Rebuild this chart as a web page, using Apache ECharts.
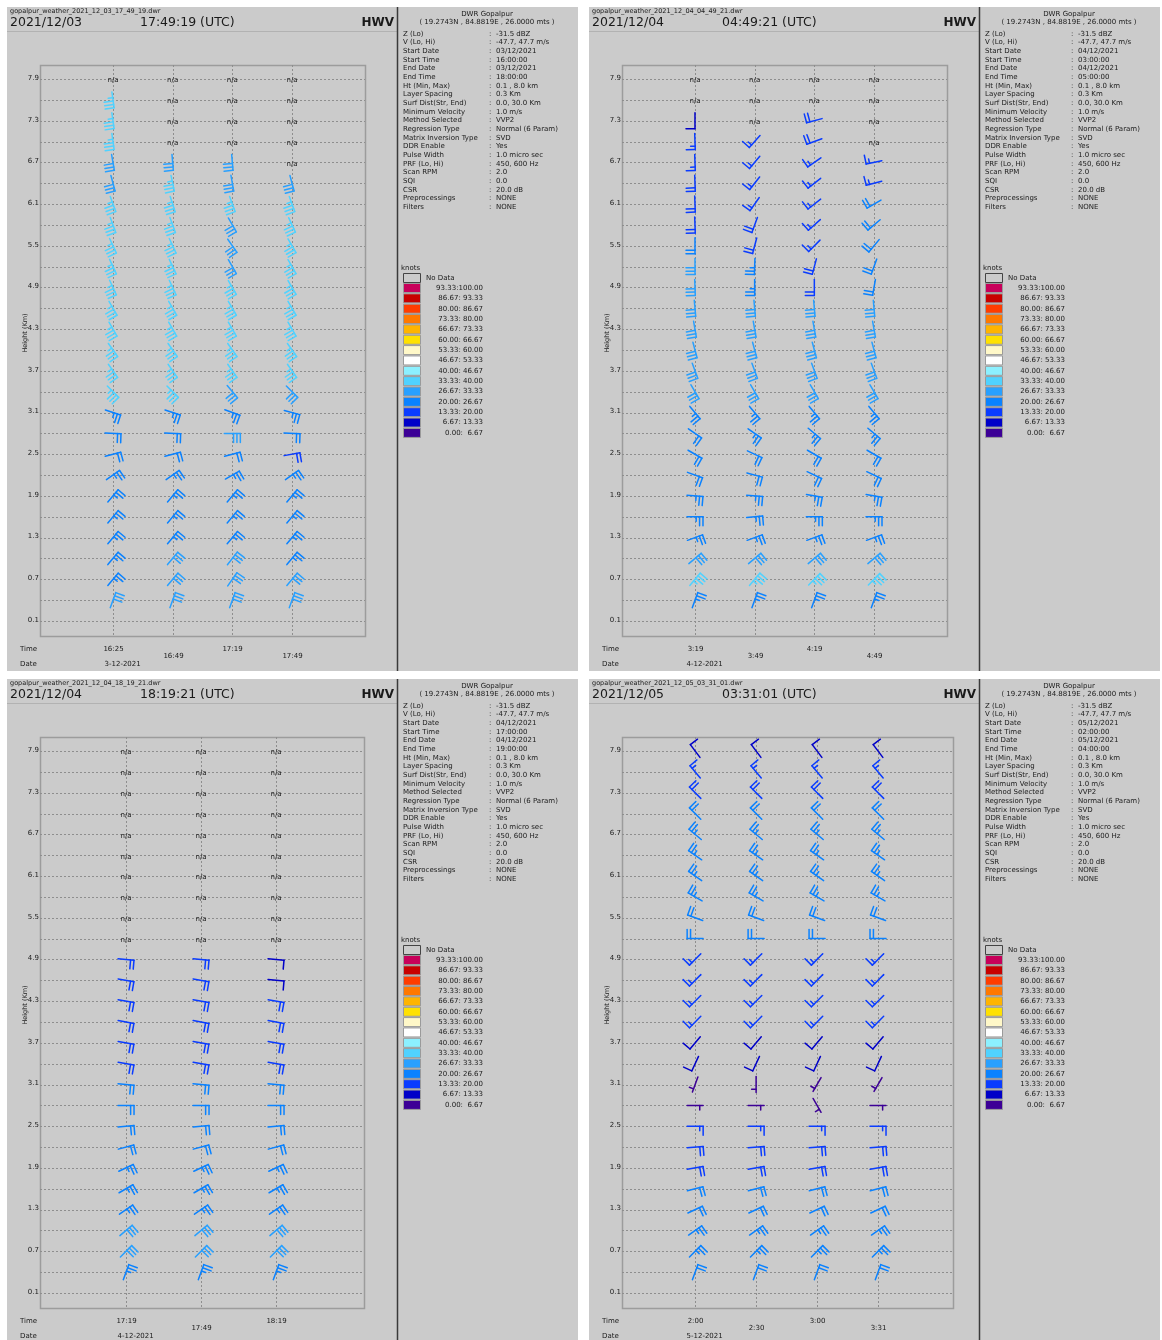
<!DOCTYPE html>
<html><head><meta charset="utf-8">
<script src="https://cdn.jsdelivr.net/npm/echarts@6/dist/echarts.min.js"></script>
<style>html,body{margin:0;padding:0;background:#fff}#c{width:1162px;height:1340px}</style>
</head><body><div id="c"></div><script>
// ---------- DATA ----------
const levels = [0.4,0.7,1.0,1.3,1.6,1.9,2.2,2.5,2.8,3.1,3.4,3.7,4.0,4.3,4.6,4.9,5.2,5.5,5.8,6.1,6.4,6.7,7.0,7.3,7.6,7.9];
const gridLevels = [0.1,0.4,0.7,1.0,1.3,1.6,1.9,2.2,2.5,2.8,3.1,3.4,3.7,4.0,4.3,4.6,4.9,5.2,5.5,5.8,6.1,6.4,6.7,7.0,7.3,7.6,7.9];
const heightTicks = [0.1,0.7,1.3,1.9,2.5,3.1,3.7,4.3,4.9,5.5,6.1,6.7,7.3,7.9];

const legendLabels = ['93.33:100.00','86.67: 93.33','80.00: 86.67','73.33: 80.00','66.67: 73.33','60.00: 66.67','53.33: 60.00','46.67: 53.33','40.00: 46.67','33.33: 40.00','26.67: 33.33','20.00: 26.67','13.33: 20.00','6.67: 13.33','0.00:  6.67'];
const legendColors = ['#c8005a','#c80000','#ff3c00','#ff7800','#ffb400','#ffe100','#fff8c8','#ffffff','#8cf0ff','#50d2ff','#28a0ff','#0a82ff','#0a3cff','#0000c8','#3c0096'];
const legendBreaks = [93.33,86.67,80.00,73.33,66.67,60.00,53.33,46.67,40.00,33.33,26.67,20.00,13.33,6.67,0.00];

const infoKeys = ['Z (Lo)','V (Lo, Hi)','Start Date','Start Time','End Date','End Time','Ht (Min, Max)','Layer Spacing','Surf Dist(Str, End)','Minimum Velocity','Method Selected','Regression Type','Matrix Inversion Type','DDR Enable','Pulse Width','PRF (Lo, Hi)','Scan RPM','SQI','CSR','Preprocessings','Filters'];
const infoCommon = ['-31.5 dBZ','-47.7, 47.7 m/s',null,null,null,null,'0.1 , 8.0 km','0.3 Km','0.0, 30.0 Km','1.0 m/s','VVP2','Normal (6 Param)','SVD','Yes','1.0 micro sec','450, 600 Hz','2.0','0.0','20.0 dB','NONE','NONE'];

// Panel 1
const p1File = 'gopalpur_weather_2021_12_03_17_49_19.dwr';
const p1Title = ['2021/12/03','17:49:19 (UTC)'];
const p1Span = ['03/12/2021','16:00:00','03/12/2021','18:00:00'];
const p1Times = ['16:25','16:49','17:19','17:49'];
const p1Date = '3-12-2021';
const p1Dir = [
 [20,40,40,40,40,40,55,75,92,108,135,145,145,150,150,155,155,155,160,160,165,170,172,172,172,null],
 [20,40,40,40,40,40,55,75,92,108,135,145,145,150,150,155,155,155,160,162,168,175,null,null,null,null],
 [20,35,38,40,40,40,60,75,90,110,140,145,145,150,150,150,150,145,150,160,170,175,null,null,null,null],
 [20,40,40,40,40,40,55,80,92,105,135,145,145,150,150,150,150,150,155,160,165,null,null,null,null,null]
];
const p1Spd = [
 [28,25,25,25,25,25,25,22,22,25,35,35,35,35,35,35,35,35,35,35,32,32,35,35,35,null],
 [28,30,30,25,25,25,25,22,22,25,35,35,35,35,35,35,35,35,35,35,35,32,null,null,null,null],
 [28,30,30,25,25,25,25,22,28,25,30,35,35,35,35,35,32,32,32,35,32,32,null,null,null,null],
 [28,30,25,25,25,25,25,18,22,25,30,35,35,35,35,35,35,35,35,35,32,null,null,null,null,null]
];

// Panel 2
const p2File = 'gopalpur_weather_2021_12_04_04_49_21.dwr';
const p2Title = ['2021/12/04','04:49:21 (UTC)'];
const p2Span = ['04/12/2021','03:00:00','04/12/2021','05:00:00'];
const p2Times = ['3:19','3:49','4:19','4:49'];
const p2Date = '4-12-2021';
const p2Dir = [
 [20,40,50,70,90,95,110,120,125,140,150,160,165,170,175,178,180,180,178,178,178,178,178,180,null,null],
 [20,40,50,70,85,95,105,115,125,140,150,160,165,170,175,180,182,195,200,215,218,220,222,null,null,null],
 [20,45,50,70,90,100,115,120,130,140,150,160,165,170,175,180,195,225,228,232,232,235,250,255,null,null],
 [20,45,50,70,90,100,115,120,130,140,150,160,165,170,175,190,200,220,230,240,255,258,null,null,null,null]
];
const p2Spd = [
 [25,35,30,25,25,25,22,22,22,25,28,30,30,30,30,28,28,22,18,18,18,17,15,10,null,null],
 [25,35,30,25,25,25,22,22,25,25,28,28,28,28,28,25,25,18,18,17,17,17,15,null,null,null],
 [25,35,30,25,25,25,22,22,25,25,28,28,28,28,28,18,18,17,17,17,17,17,18,18,null,null],
 [25,35,30,25,25,25,22,22,25,25,28,28,28,28,28,22,22,22,22,22,17,17,null,null,null,null]
];

// Panel 3
const p3File = 'gopalpur_weather_2021_12_04_18_19_21.dwr';
const p3Title = ['2021/12/04','18:19:21 (UTC)'];
const p3Span = ['04/12/2021','17:00:00','04/12/2021','19:00:00'];
const p3Times = ['17:19','17:49','18:19'];
const p3Date = '4-12-2021';
const p3Dir = [
 [20,45,50,55,60,65,75,85,90,95,100,100,100,100,100,95,null,null,null,null,null,null,null,null,null,null],
 [20,45,50,55,60,65,75,85,90,95,100,100,100,100,100,95,null,null,null,null,null,null,null,null,null,null],
 [20,45,50,55,60,65,75,85,90,95,100,100,100,100,95,95,null,null,null,null,null,null,null,null,null,null]
];
const p3Spd = [
 [25,28,28,25,25,25,22,22,22,20,18,18,18,18,18,18,null,null,null,null,null,null,null,null,null,null],
 [25,28,28,25,25,25,22,22,22,20,18,18,18,18,18,18,null,null,null,null,null,null,null,null,null,null],
 [25,28,28,25,25,25,22,22,22,20,18,18,18,18,12,12,null,null,null,null,null,null,null,null,null,null]
];

// Panel 4
const p4File = 'gopalpur_weather_2021_12_05_03_31_01.dwr';
const p4Title = ['2021/12/05','03:31:01 (UTC)'];
const p4Span = ['05/12/2021','02:00:00','05/12/2021','04:00:00'];
const p4Times = ['2:00','2:30','3:00','3:31'];
const p4Date = '5-12-2021';
const p4Dir = [
 [20,45,55,65,75,80,85,90,90,200,205,220,225,225,225,225,270,290,300,305,305,310,315,315,320,323],
 [20,45,55,65,75,80,85,90,90,180,205,220,225,225,225,225,270,290,300,305,305,310,315,315,320,323],
 [20,45,55,65,75,80,85,90,150,210,205,220,225,225,225,225,270,290,300,305,305,310,315,315,320,323],
 [20,45,55,65,75,80,85,90,90,210,205,220,225,225,225,225,270,290,300,305,305,310,315,315,320,323]
];
const p4Spd = [
 [22,25,25,22,20,18,18,15,5,3,8,12,15,15,15,15,20,22,25,25,25,25,22,18,15,10],
 [22,25,25,22,20,18,18,15,5,5,8,12,15,15,15,15,20,22,25,25,25,25,22,18,15,10],
 [22,25,25,22,20,18,18,15,5,3,8,12,15,15,15,15,20,22,25,25,25,25,22,18,15,10],
 [22,25,25,22,20,18,18,15,5,3,8,12,15,15,15,15,20,22,25,25,25,25,22,18,15,10]
];

// ---------- LAYOUT / RENDER ----------
const panels = [
 {ox:7, oy:7, w:571, h:664, file:p1File, title:p1Title, span:p1Span, times:p1Times, date:p1Date, dir:p1Dir, spd:p1Spd, gw:325, xmin:-1.223, xmax:4.223},
 {ox:589, oy:7, w:571, h:664, file:p2File, title:p2Title, span:p2Span, times:p2Times, date:p2Date, dir:p2Dir, spd:p2Spd, gw:325, xmin:-1.223, xmax:4.223},
 {ox:7, oy:679, w:571, h:661, file:p3File, title:p3Title, span:p3Span, times:p3Times, date:p3Date, dir:p3Dir, spd:p3Spd, gw:324, xmin:-1.147, xmax:3.173},
 {ox:589, oy:679, w:571, h:661, file:p4File, title:p4Title, span:p4Span, times:p4Times, date:p4Date, dir:p4Dir, spd:p4Spd, gw:331, xmin:-1.2, xmax:4.23}
];
const YMIN = -0.1159, YMAX = 8.1015;
const FONT_S = '7px "DejaVu Sans"';
const TXT = '#1a1a1a';

function speedColor(s){
  for (let i=0;i<legendBreaks.length;i++){ if (s >= legendBreaks[i]) return legendColors[i]; }
  return legendColors[legendColors.length-1];
}
function T(x,y,text,font,align,extra){
  return Object.assign({type:'text', x:x, y:y, silent:true, style:{text:text, font:font||FONT_S, fill:TXT, textAlign:align||'left', textVerticalAlign:'middle', align:align||'left', verticalAlign:'middle'}}, extra||{});
}
function L(x1,y1,x2,y2,color,w,dash){
  return {type:'line', silent:true, shape:{x1:x1,y1:y1,x2:x2,y2:y2}, style:{stroke:color, lineWidth:w||1, lineDash:dash||null}};
}

const graphics = [];
const grids = [], xAxes = [], yAxes = [], series = [];

panels.forEach((p, pi) => {
  const ox = p.ox, oy = p.oy;
  graphics.push({type:'rect', z:-10, silent:true, shape:{x:ox, y:oy, width:p.w, height:p.h}, style:{fill:'#cbcbcb'}});
  // header
  graphics.push(L(ox, oy+24.5, ox+390, oy+24.5, '#b2b2b2', 1));
  graphics.push(L(ox+390.5, oy, ox+390.5, oy+p.h, '#3a3a3a', 1.5));
  graphics.push(T(ox+3, oy+4.5, p.file, '6.5px "DejaVu Sans"'));
  graphics.push(T(ox+3, oy+16, p.title[0], '12.5px "DejaVu Sans"'));
  graphics.push(T(ox+133, oy+16, p.title[1], '12.5px "DejaVu Sans"'));
  graphics.push(T(ox+387, oy+16, 'HWV', 'bold 12px "DejaVu Sans"', 'right'));
  // info
  graphics.push(T(ox+480, oy+7, 'DWR Gopalpur', FONT_S, 'center'));
  graphics.push(T(ox+480, oy+15.5, '( 19.2743N , 84.8819E , 26.0000 mts )', FONT_S, 'center'));
  infoKeys.forEach((k, i) => {
    const y = oy + 27 + i*8.65;
    let v = infoCommon[i];
    if (v === null) v = p.span[i-2];
    graphics.push(T(ox+396, y, k, FONT_S));
    graphics.push(T(ox+482, y, ':', FONT_S));
    graphics.push(T(ox+489, y, v, FONT_S));
  });
  // legend
  graphics.push(T(ox+394, oy+261, 'knots', FONT_S));
  graphics.push({type:'rect', silent:true, shape:{x:ox+396.5, y:oy+266.5, width:17, height:9}, style:{fill:'#cbcbcb', stroke:'#444', lineWidth:1}});
  graphics.push(T(ox+419, oy+271, 'No Data', FONT_S));
  legendLabels.forEach((lab, i) => {
    const y = oy + 276.5 + i*10.35;
    graphics.push({type:'rect', silent:true, shape:{x:ox+396.5, y:y, width:17, height:9}, style:{fill:legendColors[i], stroke:'#9a9a9a', lineWidth:1}});
    graphics.push(T(ox+476, y+4.5, lab, FONT_S, 'right'));
  });
  // axis captions
  graphics.push(T(ox+18, oy+326, 'Height (Km)', '6.5px "DejaVu Sans"', 'center', {rotation: Math.PI/2}));
  graphics.push(T(ox+13, oy+642, 'Time', FONT_S));
  graphics.push(T(ox+13, oy+657, 'Date', FONT_S));

  // grid
  grids.push({left:ox+33, top:oy+58, width:p.gw, height:571, show:false});
  xAxes.push({type:'value', gridIndex:pi, min:p.xmin, max:p.xmax, show:false});
  yAxes.push({type:'value', gridIndex:pi, min:YMIN, max:YMAX, show:false});

  // plot box
  series.push({type:'custom', xAxisIndex:pi, yAxisIndex:pi, z:3, silent:true, data:[[0,0]],
    renderItem:(params, api)=>{ const cs = params.coordSys; return {type:'rect', shape:{x:cs.x+0.5,y:cs.y+0.5,width:cs.width,height:cs.height}, style:{fill:null, stroke:'#9c9c9c', lineWidth:1.5}}; }});
  // horizontal grid lines
  series.push({type:'custom', xAxisIndex:pi, yAxisIndex:pi, z:3, silent:true, data:gridLevels.map(h=>[0,h]),
    renderItem:(params, api)=>{ const cs = params.coordSys; const y = Math.round(api.coord([0, api.value(1)])[1])+0.5;
      return {type:'line', shape:{x1:cs.x, y1:y, x2:cs.x+cs.width, y2:y}, style:{stroke:'#8e8e8e', lineWidth:1, lineDash:[2,2]}}; }});
  // vertical grid lines + time labels
  series.push({type:'custom', xAxisIndex:pi, yAxisIndex:pi, z:3, silent:true, data:p.times.map((t,i)=>[i,0,t]),
    renderItem:(params, api)=>{ const cs = params.coordSys; const i = api.value(0); const x = Math.round(api.coord([i,0])[0])+0.5;
      const ch = [{type:'line', shape:{x1:x, y1:cs.y, x2:x, y2:cs.y+cs.height}, style:{stroke:'#8e8e8e', lineWidth:1, lineDash:[2,2]}},
        {type:'text', x:x, y:cs.y+cs.height+13, style:{text:p.times[i], font:FONT_S, fill:TXT, textAlign:'center', textVerticalAlign:'middle', align:'center', verticalAlign:'middle'}}];
      if (i%2===1) ch[1].y = cs.y+cs.height+20;
      if (i===0) ch.push({type:'text', x:x-9, y:cs.y+cs.height+28, style:{text:p.date, font:FONT_S, fill:TXT, textAlign:'left', textVerticalAlign:'middle', align:'left', verticalAlign:'middle'}});
      return {type:'group', children:ch}; }});
  // y tick labels
  series.push({type:'custom', xAxisIndex:pi, yAxisIndex:pi, z:3, silent:true, data:heightTicks.map(h=>[0,h]),
    renderItem:(params, api)=>{ const cs = params.coordSys; const y = api.coord([0, api.value(1)])[1];
      return {type:'text', x:cs.x-1, y:y-1, style:{text:api.value(1).toFixed(1), font:FONT_S, fill:TXT, textAlign:'right', textVerticalAlign:'middle', align:'right', verticalAlign:'middle'}}; }});
  // barbs + n/a
  const barbData = [], naData = [];
  p.dir.forEach((col, ci) => col.forEach((d, li) => {
    if (d === null) naData.push([ci, levels[li]]);
    else barbData.push([ci, levels[li], d, p.spd[ci][li]]);
  }));
  series.push({type:'custom', xAxisIndex:pi, yAxisIndex:pi, z:5, silent:true, data:naData,
    renderItem:(params, api)=>{ const c = api.coord([api.value(0), api.value(1)]);
      return {type:'text', x:c[0], y:c[1]+1.5, style:{text:'n/a', font:FONT_S, fill:TXT, textAlign:'center', textVerticalAlign:'middle', align:'center', verticalAlign:'middle'}}; }});
  series.push({type:'custom', xAxisIndex:pi, yAxisIndex:pi, z:6, silent:true, data:barbData,
    renderItem:(params, api)=>{
      const c = api.coord([api.value(0), api.value(1)]);
      const d = api.value(2)*Math.PI/180, s = api.value(3);
      const col = speedColor(s);
      const sx = Math.sin(d), sy = -Math.cos(d), fx = Math.cos(d), fy = Math.sin(d);
      const half = 8, tip = [c[0]+sx*half, c[1]+sy*half], tail = [c[0]-sx*half, c[1]-sy*half];
      const st = {stroke:col, lineWidth:1.5, lineCap:'round'};
      const ch = [{type:'line', shape:{x1:tail[0],y1:tail[1],x2:tip[0],y2:tip[1]}, style:st}];
      const n = Math.round(s/5), full = Math.floor(n/2), hf = n%2;
      let k = 0;
      for (let i=0;i<full;i++,k++){
        const bx = tip[0]-sx*k*3.4, by = tip[1]-sy*k*3.4;
        ch.push({type:'line', shape:{x1:bx,y1:by,x2:bx+fx*9,y2:by+fy*9}, style:st});
      }
      if (hf){ if (k===0) k=1; const bx = tip[0]-sx*k*3.4, by = tip[1]-sy*k*3.4;
        ch.push({type:'line', shape:{x1:bx,y1:by,x2:bx+fx*4.5,y2:by+fy*4.5}, style:st}); }
      return {type:'group', children:ch};
    }});
});

const chart = echarts.init(document.getElementById('c'), null, {renderer:'canvas'});
chart.setOption({animation:false, backgroundColor:'#ffffff', graphic:{elements:graphics}, grid:grids, xAxis:xAxes, yAxis:yAxes, series:series});
</script></body></html>
